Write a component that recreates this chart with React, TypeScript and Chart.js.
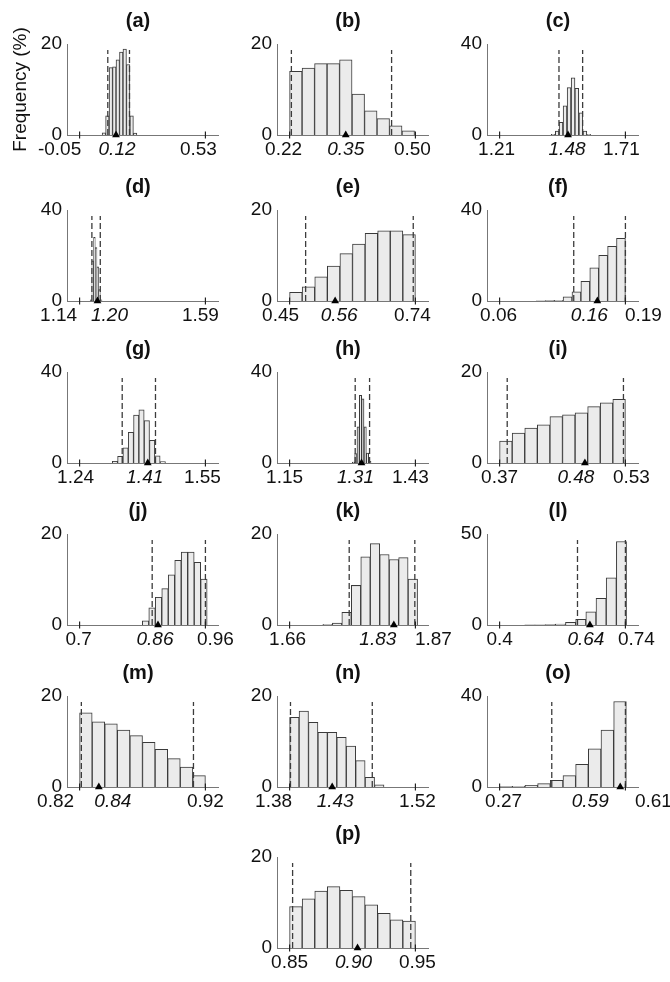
import React, { useEffect, useRef } from 'react';
import { Chart, registerables } from 'chart.js';

Chart.register(...registerables);

const FONT = "'Liberation Sans', Arial, Helvetica, sans-serif";

// ---------- data (bin centres, frequency %, x tick values/labels, mean, 95% limits, y max) ----------
const binsA = [0.062, 0.078, 0.094, 0.11, 0.126, 0.142, 0.158, 0.174, 0.19, 0.206];
const freqA = [0.5, 4.2, 14.8, 15, 16.5, 18.2, 18.9, 15.5, 4.2, 0.4];
const axisA = [-0.05, 0.53];
const labelsA = ['-0.05', '0.12', '0.53'];
const meanA = 0.118;
const limitsA = [0.08, 0.18];

const binsB = [0.2339, 0.2617, 0.2895, 0.3173, 0.3451, 0.3729, 0.4007, 0.4285, 0.4563, 0.4841];
const freqB = [14.0, 14.7, 15.7, 15.7, 16.5, 9.0, 5.3, 3.6, 2.0, 0.9];
const axisB = [0.22, 0.5];
const labelsB = ['0.22', '0.35', '0.50'];
const meanB = 0.345;
const limitsB = [0.224, 0.447];

const binsC = [1.423, 1.439, 1.454, 1.47, 1.486, 1.502, 1.517, 1.533, 1.549, 1.564];
const freqC = [0.3, 1.7, 5.6, 12.8, 20.8, 25.1, 20.5, 9.7, 1.7, 0.3];
const axisC = [1.21, 1.71];
const labelsC = ['1.21', '1.48', '1.71'];
const meanC = 1.482;
const limitsC = [1.446, 1.54];

const binsD = [1.181, 1.187, 1.193, 1.199, 1.205, 1.211, 1.217];
const freqD = [0.5, 17.7, 28, 23.5, 15, 5, 0.5];
const axisD = [1.14, 1.59];
const labelsD = ['1.14', '1.20', '1.59'];
const meanD = 1.204;
const limitsD = [1.184, 1.214];

const binsE = [0.4645, 0.4935, 0.5225, 0.5515, 0.5805, 0.6095, 0.6385, 0.6675, 0.6965, 0.7255];
const freqE = [1.9, 3.1, 5.3, 7.7, 10.4, 12.5, 14.9, 15.4, 15.4, 14.6];
const axisE = [0.45, 0.74];
const labelsE = ['0.45', '0.56', '0.74'];
const meanE = 0.555;
const limitsE = [0.487, 0.735];

const binsF = [0.1026, 0.1118, 0.121, 0.1302, 0.1394, 0.1486, 0.1578, 0.167, 0.1762, 0.1854];
const freqF = [0.05, 0.15, 0.3, 1.8, 4, 8.7, 14.6, 20.1, 24, 27.6];
const axisF = [0.06, 0.19];
const labelsF = ['0.06', '0.16', '0.19'];
const meanF = 0.161;
const limitsF = [0.1366, 0.19];

const binsG = [1.3271, 1.3402, 1.3533, 1.3664, 1.3795, 1.3926, 1.4057, 1.4188, 1.4319, 1.445];
const freqG = [0.7, 2.9, 6.7, 13.5, 21.1, 23.4, 18.6, 10, 3.2, 0.6];
const axisG = [1.24, 1.55];
const labelsG = ['1.24', '1.41', '1.55'];
const meanG = 1.408;
const limitsG = [1.345, 1.427];

const binsH = [1.2922, 1.2974, 1.3026, 1.3078, 1.313, 1.3182, 1.3234, 1.3286];
const freqH = [0.4, 4.1, 15.9, 29.7, 28.2, 15.9, 4.4, 0.7];
const axisH = [1.15, 1.43];
const labelsH = ['1.15', '1.31', '1.43'];
const meanH = 1.31;
const limitsH = [1.296, 1.328];

const binsI = [0.378, 0.394, 0.41, 0.426, 0.442, 0.458, 0.474, 0.49, 0.506, 0.522];
const freqI = [4.8, 6.6, 7.7, 8.4, 10.2, 10.6, 11.0, 12.4, 13.2, 14.0];
const axisI = [0.37, 0.53];
const labelsI = ['0.37', '0.48', '0.53'];
const meanI = 0.4785;
const limitsI = [0.3797, 0.5275];

const binsJ = [0.8363, 0.8497, 0.8631, 0.8765, 0.8899, 0.9033, 0.9167, 0.9301, 0.9435, 0.9569];
const freqJ = [0.9, 3.8, 6.1, 8, 11, 14.2, 16, 16, 13.8, 10.1];
const axisJ = [0.7, 0.96];
const labelsJ = ['0.7', '0.86', '0.96'];
const meanJ = 0.862;
const limitsJ = [0.85, 0.96];

const binsK = [1.7235, 1.7393, 1.7551, 1.7709, 1.7867, 1.8025, 1.8183, 1.8341, 1.8499, 1.8657];
const freqK = [0.15, 0.4, 2.8, 8.7, 15, 17.9, 15.5, 14.4, 14.8, 10.1];
const axisK = [1.66, 1.87];
const labelsK = ['1.66', '1.83', '1.87'];
const meanK = 1.834;
const limitsK = [1.7595, 1.869];

const binsL = [0.4818, 0.5093, 0.5368, 0.5643, 0.5918, 0.6193, 0.6468, 0.6743, 0.7018, 0.7293];
const freqL = [0.05, 0.1, 0.2, 0.5, 1.5, 3.1, 7.2, 14.6, 25.9, 45.9];
const axisL = [0.4, 0.74];
const labelsL = ['0.4', '0.64', '0.74'];
const meanL = 0.644;
const limitsL = [0.6105, 0.74];

const binsM = [0.825, 0.835, 0.845, 0.855, 0.865, 0.875, 0.885, 0.895, 0.905, 0.915];
const freqM = [16.3, 14.3, 13.9, 12.5, 11.3, 9.8, 8.3, 6.25, 4.4, 2.5];
const axisM = [0.82, 0.92];
const labelsM = ['0.82', '0.84', '0.92'];
const meanM = 0.8353;
const limitsM = [0.8214, 0.9105];

const binsN = [1.3853, 1.3958, 1.4063, 1.4168, 1.4273, 1.4378, 1.4483, 1.4588, 1.4693, 1.4798];
const freqN = [15.3, 16.7, 14.2, 12, 12, 10.9, 9, 5.8, 2.1, 0.5];
const axisN = [1.38, 1.52];
const labelsN = ['1.38', '1.43', '1.52'];
const meanN = 1.4274;
const limitsN = [1.381, 1.472];

const binsO = [0.2871, 0.3214, 0.3556, 0.3899, 0.4241, 0.4584, 0.4926, 0.5269, 0.5611, 0.5954];
const freqO = [0.15, 0.3, 0.7, 1.5, 2.9, 5, 10, 16.8, 25, 37.6];
const axisO = [0.27, 0.61];
const labelsO = ['0.27', '0.59', '0.61'];
const meanO = 0.596;
const limitsO = [0.411, 0.61];

const binsP = [0.855, 0.865, 0.875, 0.885, 0.895, 0.905, 0.915, 0.925, 0.935, 0.945];
const freqP = [9.1, 10.8, 12.5, 13.5, 12.7, 11.3, 9.5, 7.6, 6.2, 5.9];
const axisP = [0.85, 0.95];
const labelsP = ['0.85', '0.90', '0.95'];
const meanP = 0.904;
const limitsP = [0.8524, 0.9463];

const yMaxes = [20, 20, 40, 40, 20, 40, 40, 40, 20, 20, 20, 50, 20, 20, 40, 20];
const panelIds = ['a', 'b', 'c', 'd', 'e', 'f', 'g', 'h', 'i', 'j', 'k', 'l', 'm', 'n', 'o', 'p'];

// ---------- layout (page pixels) ----------
const COL_X = [67, 277, 487];
const ROW_Y = [44, 210, 372, 534, 696, 857];
const PLOT_W = 151;
const PLOT_H = 91;
const PAD_L = 60;
const PAD_R = 51;
const PAD_T = 40;
const PAD_B = 30;
// horizontal nudge (px) of the three x tick labels, as placed in the original figure
const LABEL_NUDGE = [
  [-20, 1, -7], [-6, 0, -3], [-3, -1, -4],
  [-21, 12, -5], [-9, 4, -3], [-1, -8, 18],
  [-4, -3, -3], [-5, -6, -5], [0, -9, 6],
  [-1, -3, 10], [-2, -16, 18], [0, -4, 11],
  [-24, 14, 0], [-16, 3, 2], [4, -30, 28],
  [0, -4, 2],
];
const GRID_POS = [
  [0, 0], [0, 1], [0, 2],
  [1, 0], [1, 1], [1, 2],
  [2, 0], [2, 1], [2, 2],
  [3, 0], [3, 1], [3, 2],
  [4, 0], [4, 1], [4, 2],
  [5, 1],
];

const PANELS = [
  [binsA, freqA, axisA, labelsA, meanA, limitsA],
  [binsB, freqB, axisB, labelsB, meanB, limitsB],
  [binsC, freqC, axisC, labelsC, meanC, limitsC],
  [binsD, freqD, axisD, labelsD, meanD, limitsD],
  [binsE, freqE, axisE, labelsE, meanE, limitsE],
  [binsF, freqF, axisF, labelsF, meanF, limitsF],
  [binsG, freqG, axisG, labelsG, meanG, limitsG],
  [binsH, freqH, axisH, labelsH, meanH, limitsH],
  [binsI, freqI, axisI, labelsI, meanI, limitsI],
  [binsJ, freqJ, axisJ, labelsJ, meanJ, limitsJ],
  [binsK, freqK, axisK, labelsK, meanK, limitsK],
  [binsL, freqL, axisL, labelsL, meanL, limitsL],
  [binsM, freqM, axisM, labelsM, meanM, limitsM],
  [binsN, freqN, axisN, labelsN, meanN, limitsN],
  [binsO, freqO, axisO, labelsO, meanO, limitsO],
  [binsP, freqP, axisP, labelsP, meanP, limitsP],
].map((d, i) => ({
  id: panelIds[i],
  bins: d[0] as number[],
  freq: d[1] as number[],
  axis: d[2] as number[],
  labels: d[3] as string[],
  mean: d[4] as number,
  limits: d[5] as number[],
  ymax: yMaxes[i],
  nudge: LABEL_NUDGE[i],
  row: GRID_POS[i][0],
  col: GRID_POS[i][1],
}));

type PanelT = (typeof PANELS)[number];

function Panel({ p }: { p: PanelT }) {
  const ref = useRef<HTMLCanvasElement | null>(null);
  useEffect(() => {
    if (!ref.current) return;
    const span = p.axis[1] - p.axis[0];
    const xmin = p.axis[0] - 0.1 * span;
    const xmax = p.axis[1] + 0.1 * span;
    const perPx = (xmax - xmin) / PLOT_W;
    const anchors = [
      p.axis[0] + p.nudge[0] * perPx,
      p.mean + p.nudge[1] * perPx,
      p.axis[1] + p.nudge[2] * perPx,
    ];
    const datasets: any[] = [
      {
        type: 'bar',
        data: p.bins.map((x, i) => ({ x, y: p.freq[i] })),
        backgroundColor: '#ebebeb',
        borderColor: '#3a3a3a',
        borderWidth: 1,
        barPercentage: 1,
        categoryPercentage: 1,
        yAxisID: 'y',
        order: 3,
      },
      ...p.limits.map((v) => ({
        type: 'line',
        data: [
          { x: v, y: 0 },
          { x: v, y: p.ymax * 0.935 },
        ],
        borderColor: '#3c3c3c',
        borderWidth: 1.3,
        borderDash: [6, 3],
        pointRadius: 0,
        yAxisID: 'y',
        order: 2,
      })),
      {
        type: 'line',
        data: p.axis.map((x) => ({ x, y: 0 })),
        showLine: false,
        pointStyle: 'line',
        pointRotation: 90,
        pointRadius: 3.5,
        pointBorderWidth: 1.2,
        pointBorderColor: '#222',
        clip: false,
        yAxisID: 'y',
        order: 1,
      },
      {
        type: 'line',
        data: [{ x: p.mean, y: 0 }],
        showLine: false,
        pointStyle: 'triangle',
        pointRadius: 4.5,
        pointBackgroundColor: '#000',
        pointBorderColor: '#000',
        pointBorderWidth: 0,
        clip: false,
        yAxisID: 'y',
        order: 0,
      },
    ];
    const chart = new Chart(ref.current, {
      type: 'bar',
      data: { datasets },
      options: {
        animation: false,
        responsive: false,
        maintainAspectRatio: false,
        events: [],
        layout: { padding: 0 },
        plugins: {
          legend: { display: false },
          tooltip: { enabled: false },
          title: {
            display: true,
            text: `(${p.id})`,
            color: '#111',
            font: { family: FONT, size: 20, weight: 'bold' },
            padding: { top: 5, bottom: 11 },
          },
        },
        scales: {
          x: {
            type: 'linear',
            min: xmin,
            max: xmax,
            offset: false,
            bounds: 'data',
            grid: { display: false, drawTicks: false },
            border: { display: true, color: '#777', width: 1 },
            afterBuildTicks: (s: any) => {
              s.ticks = anchors.map((v) => ({ value: v }));
            },
            afterFit: (s: any) => {
              s.height = PAD_B;
            },
            ticks: {
              autoSkip: false,
              maxRotation: 0,
              minRotation: 0,
              padding: 3.5,
              color: '#111',
              font: (ctx: any) => ({
                family: FONT,
                size: 19,
                style: ctx.index === 1 ? 'italic' : 'normal',
              }),
              callback: (_v: any, i: number) => p.labels[i],
            },
          },
          y: {
            type: 'linear',
            position: 'left',
            min: 0,
            max: p.ymax,
            grid: { display: false, drawTicks: false },
            border: { display: true, color: '#777', width: 1 },
            afterBuildTicks: (s: any) => {
              s.ticks = [{ value: 0 }, { value: p.ymax }];
            },
            afterFit: (s: any) => {
              s.width = PAD_L;
            },
            ticks: {
              padding: 5,
              color: '#111',
              font: { family: FONT, size: 19 },
              callback: (v: any) => String(v),
            },
            title:
              p.id === 'a'
                ? {
                    display: true,
                    text: 'Frequency (%)',
                    color: '#111',
                    font: { family: FONT, size: 19 },
                    padding: { top: 2.6, bottom: 0 },
                  }
                : { display: false },
          },
          y2: {
            type: 'linear',
            position: 'right',
            display: true,
            grid: { display: false, drawTicks: false },
            border: { display: false },
            ticks: { display: false },
            afterFit: (s: any) => {
              s.width = PAD_R;
            },
          },
        },
      } as any,
    });
    return () => chart.destroy();
  }, [p]);

  const w = PAD_L + PLOT_W + PAD_R;
  const h = PAD_T + PLOT_H + PAD_B;
  return (
    <canvas
      ref={ref}
      width={w}
      height={h}
      style={{
        position: 'absolute',
        left: COL_X[p.col] - PAD_L,
        top: ROW_Y[p.row] - PAD_T,
        width: w,
        height: h,
      }}
    />
  );
}

export default function App() {
  return (
    <div
      style={{
        position: 'absolute',
        left: 0,
        top: 0,
        width: 670,
        height: 982,
        overflow: 'hidden',
        background: '#ffffff',
      }}
    >
      {PANELS.map((p) => (
        <Panel key={p.id} p={p} />
      ))}
    </div>
  );
}
